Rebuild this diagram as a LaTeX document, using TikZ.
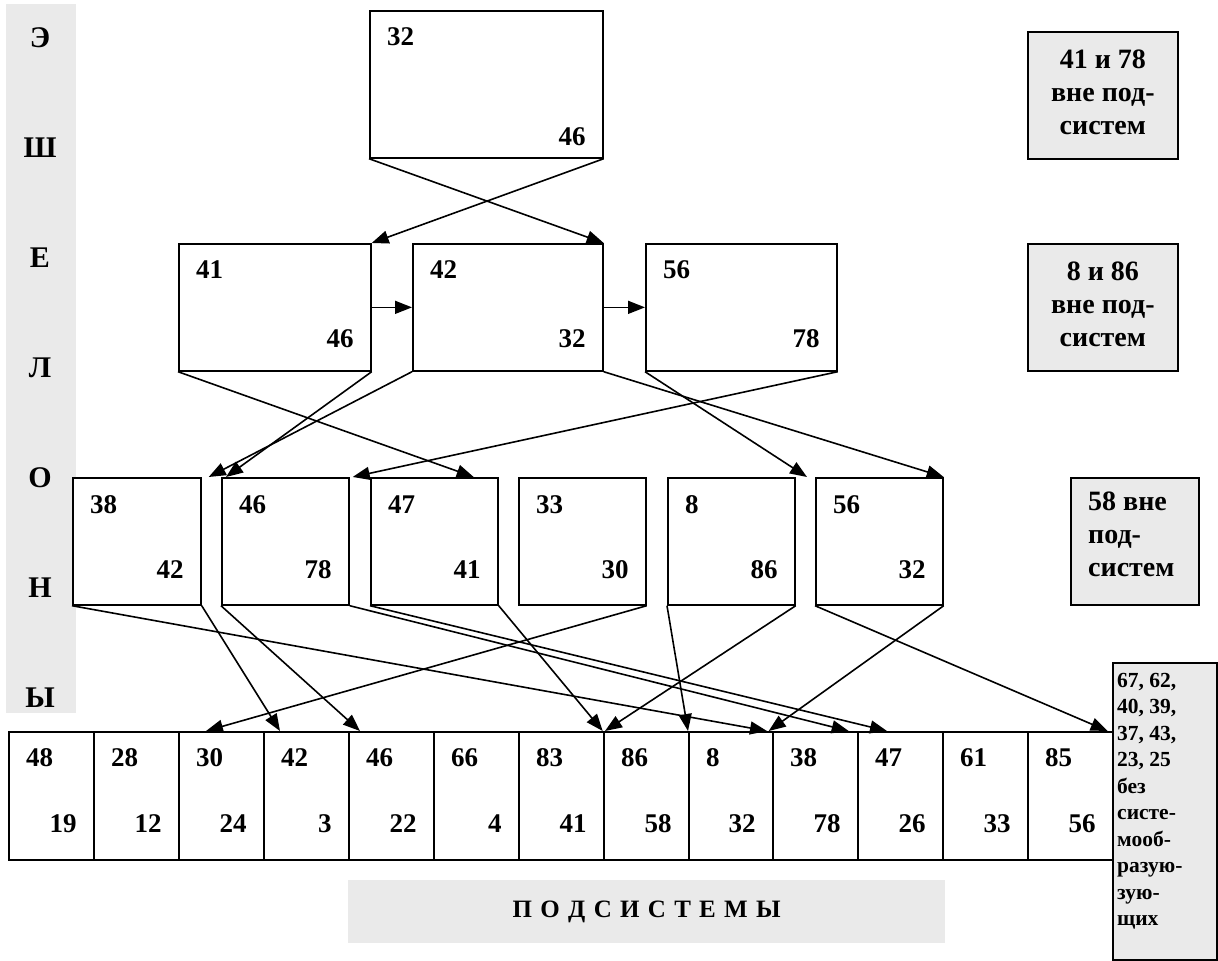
\documentclass[tikz,border=0pt]{standalone}
\usepackage{fontspec}
\setmainfont{Liberation Serif}
\usetikzlibrary{arrows.meta}
\definecolor{panel}{HTML}{EAEAEA}
\tikzset{
  box/.style={draw=black, fill=white, line width=1.7pt, inner sep=0pt, anchor=north west},
  num/.style={inner sep=0pt, font=\fontsize{27}{32}\selectfont\bfseries},
  arr/.style={line width=1.6pt, -{Triangle[length=17pt,width=13pt]}},
  note/.style={draw=black, fill=panel, line width=1.7pt, inner sep=0pt, anchor=north west},
  notetext/.style={inner sep=0pt, font=\fontsize{28}{33}\selectfont\bfseries, align=center},
  stripletter/.style={inner sep=0pt, font=\fontsize{30}{34}\selectfont\bfseries}
}
% name, left, top, width, height, topnum, botnum, top offset, bottom offset
\newcommand\numbox[9]{%
  \node[box, minimum width=#4pt, minimum height=#5pt] (#1) at (#2,#3) {};
  \node[num, anchor=west] (#1t) at ([xshift=18pt,yshift=-#8pt]#1.north west) {#6};
  \node[num, anchor=east] (#1b) at ([xshift=-18pt,yshift=#9pt]#1.south east) {#7};
}
\begin{document}
\begin{tikzpicture}[x=1pt,y=-1pt]
\useasboundingbox (0,0) rectangle (1218,961);
% left strip
\fill[panel] (6,4) rectangle (76,713);
\node[stripletter] (e1) at (40,38) {Э};
\node[stripletter] (e2) at (40,148) {Ш};
\node[stripletter] (e3) at (40,258) {Е};
\node[stripletter] (e4) at (40,368) {Л};
\node[stripletter] (e5) at (40,478) {О};
\node[stripletter] (e6) at (40,588) {Н};
\node[stripletter] (e7) at (40,698) {Ы};
% bottom label
\node[fill=panel, minimum width=597pt, minimum height=63pt, inner sep=0pt, anchor=north west] (sub) at (348,880) {};
\node[inner sep=0pt, font=\fontsize{25}{28}\selectfont\bfseries] (subt) at (sub.center) {\makebox[268pt][s]{П О Д С И С Т Е М Ы}};
% top level
\numbox{T}{369}{10}{233}{147}{32}{46}{27}{22}
% level 2
\numbox{A41}{178}{243}{192}{127}{41}{46}{27}{33}
\numbox{A42}{412}{243}{190}{127}{42}{32}{27}{33}
\numbox{A56}{645}{243}{191}{127}{56}{78}{27}{33}
% level 3
\numbox{B38}{72}{477}{128}{127}{38}{42}{28}{36}
\numbox{B46}{221}{477}{127}{127}{46}{78}{28}{36}
\numbox{B47}{370}{477}{127}{127}{47}{41}{28}{36}
\numbox{B33}{518}{477}{127}{127}{33}{30}{28}{36}
\numbox{B8}{667}{477}{127}{127}{8}{86}{28}{36}
\numbox{B56}{815}{477}{127}{127}{56}{32}{28}{36}
% subsystems row
\numbox{C48}{8}{731}{85}{128}{48}{19}{27}{37}
\numbox{C28}{93}{731}{85}{128}{28}{12}{27}{37}
\numbox{C30}{178}{731}{85}{128}{30}{24}{27}{37}
\numbox{C42}{263}{731}{85}{128}{42}{3}{27}{37}
\numbox{C46}{348}{731}{85}{128}{46}{22}{27}{37}
\numbox{C66}{433}{731}{85}{128}{66}{4}{27}{37}
\numbox{C83}{518}{731}{85}{128}{83}{41}{27}{37}
\numbox{C86}{603}{731}{85}{128}{86}{58}{27}{37}
\numbox{C8}{688}{731}{84}{128}{8}{32}{27}{37}
\numbox{C38}{772}{731}{85}{128}{38}{78}{27}{37}
\numbox{C47}{857}{731}{85}{128}{47}{26}{27}{37}
\numbox{C61}{942}{731}{85}{128}{61}{33}{27}{37}
\numbox{C85}{1027}{731}{85}{128}{85}{56}{27}{37}
% notes
\node[note, minimum width=150pt, minimum height=127pt] (R1) at (1027,31) {};
\node[notetext] (R1t) at ([yshift=3.5pt]R1.center) {41 и 78\\вне под-\\систем};
\node[note, minimum width=150pt, minimum height=127pt] (R2) at (1027,243) {};
\node[notetext] (R2t) at ([yshift=3.5pt]R2.center) {8 и 86\\вне под-\\систем};
\node[note, minimum width=128pt, minimum height=127pt] (R3) at (1070,477) {};
\node[notetext, align=left, anchor=north west, font=\fontsize{28}{33}\selectfont\bfseries] (R3t) at (1088,492) {58 вне\\под-\\систем};
\node[note, minimum width=104pt, minimum height=297pt] (R4) at (1112,662) {};
\node[inner sep=0pt, font=\fontsize{21.5}{26.5}\selectfont\bfseries, align=left, anchor=north west] (R4t) at (1117,673) {67, 62,\\40, 39,\\37, 43,\\23, 25\\без\\систе-\\мооб-\\разую-\\зую-\\щих};
% arrows: top -> level 2
\draw[arr] (T.south west) -- (A42.north east);
\draw[arr] (T.south east) -- (A41.north east);
\draw[arr] (A41.east) -- (A42.west);
\draw[arr] (A42.east) -- (A56.west);
% level 2 -> level 3
\draw[arr] (A41.south west) -- ([xshift=-25pt]B47.north east);
\draw[arr] (A41.south east) -- ([xshift=5pt]B46.north west);
\draw[arr] (A42.south west) -- ([xshift=7pt]B38.north east);
\draw[arr] (A42.south east) -- (B56.north east);
\draw[arr] (A56.south west) -- ([xshift=-8pt]B56.north west);
\draw[arr] (A56.south east) -- ([xshift=3pt]B46.north east);
% level 3 -> subsystems
\draw[arr] (B33.south east) -- ([xshift=28pt]C30.north west);
\draw[arr] (B38.south east) -- ([xshift=17pt]C42.north west);
\draw[arr] (B46.south west) -- ([xshift=12pt]C46.north west);
\draw[arr] (B47.south east) -- ([xshift=-2pt]C83.north east);
\draw[arr] (B8.south east) -- ([xshift=2pt]C86.north west);
\draw[arr] (B8.south west) -- (C8.north west);
\draw[arr] (B38.south west) -- ([xshift=-5pt]C38.north west);
\draw[arr] (B56.south east) -- ([xshift=-5pt]C8.north east);
\draw[arr] (B46.south east) -- ([xshift=-10pt]C38.north east);
\draw[arr] (B47.south west) -- ([xshift=30pt]C47.north west);
\draw[arr] (B56.south west) -- ([xshift=-6pt]C85.north east);
\end{tikzpicture}
\end{document}
